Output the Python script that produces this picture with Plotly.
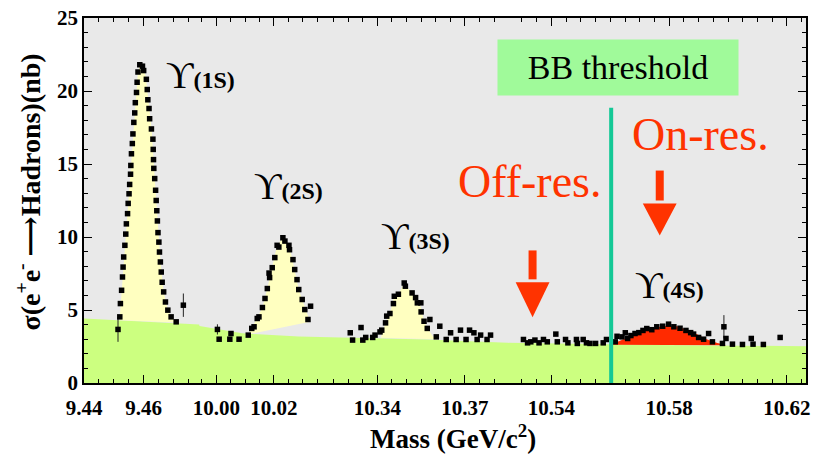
import numpy as np
import plotly.graph_objects as go

# ---------------- data ----------------
tick_masses = [9.44, 9.46, 10.00, 10.02, 10.34, 10.37, 10.54, 10.58, 10.62]
tick_labels = ["9.44", "9.46", "10.00", "10.02", "10.34", "10.37", "10.54", "10.58", "10.62"]
y_ticks = [0, 5, 10, 15, 20, 25]

# Upsilon(1S) scan
y1s_mass = [9.4514, 9.4520, 9.4522, 9.4526, 9.4529, 9.4531, 9.4533, 9.4537, 9.4540, 9.4542,
            9.4546, 9.4548, 9.4551, 9.4553, 9.4556, 9.4557, 9.4559, 9.4562, 9.4564, 9.4567,
            9.4570, 9.4572, 9.4576, 9.4578, 9.4581, 9.4587, 9.4596, 9.4600,
            9.4609, 9.4612, 9.4614, 9.4618, 9.4620, 9.4626, 9.4631, 9.4632, 9.4633, 9.4634,
            9.4637, 9.4640, 9.4642, 9.4644, 9.4646, 9.4648, 9.4651, 9.4653, 9.4656, 9.4659,
            9.4662, 9.4667, 9.4673, 9.4681, 9.4692, 9.4709, 9.4733]
y1s_sigma = [3.67, 4.53, 5.44, 6.35, 7.26, 7.94, 8.63, 9.43, 10.2, 10.9,
             11.6, 12.3, 12.96, 13.6, 14.3, 14.9, 15.7, 16.4, 17.06, 17.85,
             18.5, 19.2, 19.9, 20.6, 21.3, 21.8, 21.7, 21.4,
             20.8, 20.1, 19.4, 18.8, 18.1, 17.4, 16.7, 16.0, 15.3, 14.7,
             14.0, 13.2, 12.5, 11.8, 11.1, 10.3, 9.65, 8.97, 8.29, 7.6,
             6.9, 6.24, 5.55, 4.99, 4.53, 4.19, 5.33]
y1s_err = [0.85] + [0.0] * 53 + [0.8]

# Upsilon(2S) scan
y2s_mass = [10.0004, 10.0010, 10.0051, 10.0047, 10.0079, 10.0111, 10.0123, 10.0131, 10.0142, 10.0148,
            10.0160, 10.0169, 10.0177, 10.0185, 10.0183, 10.0194, 10.0203, 10.0211, 10.0217, 10.0231,
            10.0238, 10.0252, 10.0254, 10.0266, 10.0272, 10.0280, 10.0286, 10.0298, 10.0307, 10.0318,
            10.0327]
y2s_sigma = [3.67, 3.0, 3.39, 3.0, 3.0, 3.28, 3.74, 3.85, 4.42, 4.53,
             5.17, 5.79, 6.47, 7.22, 7.53, 7.9, 8.59, 9.43, 9.31, 9.95,
             9.72, 9.43, 9.13, 8.45, 7.77, 7.08, 6.4, 5.72, 5.03, 4.35,
             5.26]
y2s_err = [0.35] + [0.0] * 30

# Upsilon(3S) scan
y3s_mass = [10.3307, 10.3315, 10.3344, 10.3350, 10.3360, 10.3384, 10.3392, 10.3409, 10.3415, 10.3428,
            10.3432, 10.3443, 10.3455, 10.3458, 10.3472, 10.3492, 10.3496, 10.3519, 10.3531, 10.3537,
            10.3549, 10.3550, 10.3560, 10.3571, 10.3580, 10.3602, 10.3614, 10.3636, 10.3651, 10.3670,
            10.3685, 10.3704, 10.3716, 10.3731, 10.3742, 10.3754, 10.3776, 10.3788]
y3s_sigma = [3.44, 2.94, 3.80, 2.94, 3.12, 3.12, 3.28, 3.50, 3.62, 4.12,
             4.58, 4.76, 5.44, 5.94, 6.08, 6.85, 6.63, 6.17, 5.85, 5.49,
             5.49, 4.87, 4.23, 3.74, 4.35, 3.16, 3.89, 2.98, 3.44, 2.98,
             3.62, 2.98, 3.62, 3.44, 2.98, 3.28, 2.98, 3.28]

# Off-resonance + Upsilon(4S) scan
y4s_mass = [10.5305, 10.5319, 10.5330, 10.5344, 10.5358, 10.5373, 10.5386, 10.5415, 10.5420, 10.5448,
            10.5456, 10.5485, 10.5488, 10.5508, 10.5519, 10.5531, 10.5550, 10.5576, 10.5587, 10.5617,
            10.5623, 10.5640, 10.5651, 10.5659, 10.5670, 10.5684, 10.5697, 10.5711, 10.5724, 10.5741,
            10.5758, 10.5778, 10.5798, 10.5816, 10.5837, 10.5857, 10.5873, 10.5883, 10.5900, 10.5917,
            10.5934, 10.5947, 10.5981, 10.5986, 10.5993, 10.6015, 10.6049, 10.6079, 10.6085, 10.6120,
            10.6177]
y4s_sigma = [2.98, 2.75, 2.82, 2.94, 2.75, 2.98, 2.82, 3.35, 2.82, 2.98,
             2.75, 2.98, 2.71, 2.98, 2.75, 2.71, 2.71, 2.75, 2.98, 2.82,
             3.20, 3.16, 3.44, 3.05, 3.25, 3.39, 3.45, 3.60, 3.73, 3.65,
             3.85, 3.89, 4.03, 3.85, 3.75, 3.60, 3.45, 3.35, 3.12, 3.00,
             3.39, 2.82, 2.71, 3.85, 3.05, 2.66, 2.64, 3.05, 2.66, 2.64,
             3.12]
y4s_err = [0.0] * 43 + [0.8] + [0.0] * 7

# continuum (green band) upper edge
cont_mass = [9.44, 9.471, 9.4786, 9.9942, 10.00, 10.009, 10.0286, 10.0389,
             10.3234, 10.357, 10.3846, 10.5252, 10.5758, 10.6265]
cont_sigma = [4.42, 4.12, 4.0, 3.9, 3.69, 3.40, 3.18, 3.14,
              3.13, 2.98, 2.76, 2.75, 2.60, 2.52]

# resonance fit envelopes (upper edge of the coloured areas) and their bases
fit1s_mass = [9.4520, 9.4530, 9.4540, 9.4550, 9.4560, 9.4570, 9.4580, 9.4587, 9.4597,
              9.4607, 9.4617, 9.4627, 9.4637, 9.4647, 9.4657, 9.4667, 9.4677, 9.4690, 9.4707]
fit1s_sigma = [4.5, 7.5, 10.2, 12.8, 15.5, 18.5, 21.1, 21.8, 21.7,
               21.0, 18.9, 17.3, 14.0, 10.7, 8.2, 6.24, 5.3, 4.6, 4.2]
base1s_mass, base1s_sigma = [9.4707, 9.4520], [4.15, 4.3]

fit2s_mass = [10.0090, 10.0111, 10.0123, 10.0142, 10.0160, 10.0177, 10.0194, 10.0211, 10.0231,
              10.0245, 10.0260, 10.0272, 10.0286, 10.0298, 10.0312, 10.0325]
fit2s_sigma = [3.25, 3.3, 3.74, 4.42, 5.17, 6.47, 7.9, 9.43, 9.95,
               9.6, 8.8, 7.77, 6.4, 5.72, 4.9, 4.2]
base2s_mass, base2s_sigma = [10.0325, 10.0090], [4.2, 3.25]

fit3s_mass = [10.3412, 10.3428, 10.3443, 10.3458, 10.3472, 10.3492, 10.3505, 10.3519, 10.3537,
              10.3549, 10.3560, 10.3572, 10.3590, 10.3605]
fit3s_sigma = [3.1, 4.12, 4.76, 5.94, 6.08, 6.85, 6.5, 6.17, 5.49,
               5.2, 4.23, 3.74, 3.2, 3.0]
base3s_mass, base3s_sigma = [10.3605, 10.3412], [3.0, 3.1]

fit4s_mass = [10.5596, 10.5623, 10.5657, 10.5691, 10.5724, 10.5758, 10.5792, 10.5826, 10.5859,
              10.5893, 10.5927, 10.5961, 10.5995]
fit4s_sigma = [2.62, 2.8, 3.1, 3.4, 3.65, 3.82, 3.92, 3.88, 3.65, 3.35, 3.0, 2.75, 2.6]
base4s_mass, base4s_sigma = [10.5995, 10.5596], [2.58, 2.62]

bb_threshold_mass = 10.5603

# ---------------- broken mass axis ----------------
# (reference mass, axis position of that mass, axis units per GeV, segment start, segment end)
AXIS_SEGMENTS = [
    (9.44, 84.0, 3000.0, 84.0, 200.0),
    (10.00, 217.0, 2900.0, 200.0, 330.0),
    (10.34, 379.0, 2933.0, 330.0, 510.0),
    (10.54, 554.0, 2960.0, 510.0, 810.0),
]
SEG_SPLITS = [9.8, 10.2, 10.45]


def to_axis(m):
    m = np.asarray(m, dtype=float)
    idx = np.searchsorted(SEG_SPLITS, m)
    ref = np.array([s[0] for s in AXIS_SEGMENTS])[idx]
    pos = np.array([s[1] for s in AXIS_SEGMENTS])[idx]
    k = np.array([s[2] for s in AXIS_SEGMENTS])[idx]
    return pos + (m - ref) * k


minor_vals = []
for ref, pos, k, a0, a1 in AXIS_SEGMENTS:
    lo = ref + (a0 - pos) / k
    hi = ref + (a1 - pos) / k
    mm = np.arange(np.ceil(lo / 0.005 - 1e-9) * 0.005, hi + 1e-9, 0.005)
    minor_vals.extend(to_axis(mm).tolist())

SERIF = "Liberation Serif, DejaVu Serif, serif"
GREEN = "#ccff80"
YELLOW = "#ffffc0"
RED = "#ff3300"

fig = go.Figure()

# continuum
fig.add_trace(go.Scatter(x=to_axis(cont_mass), y=cont_sigma, mode="lines",
                         line=dict(width=0, color=GREEN), fill="tozeroy",
                         fillcolor=GREEN, hoverinfo="skip"))


def area(fm, fs, bm, bs, color):
    return go.Scatter(x=to_axis(list(fm) + list(bm)), y=list(fs) + list(bs),
                      mode="lines", line=dict(width=0, color=color),
                      fill="toself", fillcolor=color, hoverinfo="skip")


fig.add_trace(area(fit1s_mass, fit1s_sigma, base1s_mass, base1s_sigma, YELLOW))
fig.add_trace(area(fit2s_mass, fit2s_sigma, base2s_mass, base2s_sigma, YELLOW))
fig.add_trace(area(fit3s_mass, fit3s_sigma, base3s_mass, base3s_sigma, YELLOW))
fig.add_trace(area(fit4s_mass, fit4s_sigma, base4s_mass, base4s_sigma, "#ff2a00"))

# data points
zero3 = [0.0] * len(y3s_mass)
for mass, sig, err in [(y1s_mass, y1s_sigma, y1s_err), (y2s_mass, y2s_sigma, y2s_err),
                       (y3s_mass, y3s_sigma, zero3), (y4s_mass, y4s_sigma, y4s_err)]:
    fig.add_trace(go.Scatter(
        x=to_axis(mass), y=sig, mode="markers",
        marker=dict(symbol="square", size=5.5, color="black"),
        error_y=dict(type="data", array=err, visible=True, color="#222", thickness=1, width=0),
    ))

shapes = []
# BB threshold line
tx = float(to_axis([bb_threshold_mass])[0])
shapes.append(dict(type="line", xref="x", yref="y", x0=tx, x1=tx, y0=0, y1=18.85,
                   line=dict(color="#14c896", width=4), layer="above"))
# red arrows
for am, top, head, tip in [(10.5336, 9.08, 6.9, 4.5), (10.5768, 14.55, 12.3, 10.1)]:
    ax = float(to_axis([am])[0])
    shapes.append(dict(type="line", xref="x", yref="y", x0=ax, x1=ax, y0=top, y1=head + 0.2,
                       line=dict(color=RED, width=8), layer="above"))
    shapes.append(dict(type="path", xref="x", yref="y",
                       path=f"M {ax-17},{head} L {ax+17},{head} L {ax},{tip} Z",
                       fillcolor=RED, line=dict(width=0), layer="above"))

annotations = []
for lab, lm, ly in [("1S", 9.4790, 21.1), ("2S", 10.0252, 13.46),
                    ("3S", 10.3530, 10.04), ("4S", 10.5802, 6.69)]:
    annotations.append(dict(
        x=float(to_axis([lm])[0]), y=ly, xref="x", yref="y", showarrow=False,
        text=f"ϒ<span style='font-size:24px'><b>({lab})</b></span>",
        font=dict(family=SERIF, size=38, color="black"), xanchor="center", yanchor="middle"))

annotations.append(dict(x=float(to_axis([10.5626])[0]), y=21.62, xref="x", yref="y",
                        showarrow=False, text="BB threshold", bgcolor="#a0fa9a",
                        width=238, height=53, font=dict(family=SERIF, size=34, color="black"),
                        xanchor="center", yanchor="middle"))
annotations.append(dict(x=float(to_axis([10.5326])[0]), y=13.8, xref="x", yref="y",
                        showarrow=False, text="Off-res.",
                        font=dict(family=SERIF, size=46, color=RED),
                        xanchor="center", yanchor="middle"))
annotations.append(dict(x=float(to_axis([10.5907])[0]), y=17.0, xref="x", yref="y",
                        showarrow=False, text="On-res.",
                        font=dict(family=SERIF, size=46, color=RED),
                        xanchor="center", yanchor="middle"))
# axis titles
annotations.append(dict(x=0.511, y=-0.148, xref="paper", yref="paper", showarrow=False,
                        text="<b>Mass (GeV/c<sup>2</sup>)</b>",
                        font=dict(family=SERIF, size=27, color="black"),
                        xanchor="center", yanchor="middle"))
annotations.append(dict(x=-0.077, y=0.523, xref="paper", yref="paper", showarrow=False,
                        text="<b>σ(e<sup>+</sup>e<sup>-</sup> ⟶Hadrons)(nb)</b>", textangle=-90,
                        font=dict(family=SERIF, size=28, color="black"),
                        xanchor="center", yanchor="middle"))

fig.update_layout(
    width=816, height=457, margin=dict(l=84, r=6, t=17, b=74),
    paper_bgcolor="white", plot_bgcolor="#e9e9e9", showlegend=False,
    shapes=shapes, annotations=annotations,
)
axis_common = dict(ticks="inside", ticklen=8, tickwidth=1, tickcolor="black",
                   showline=True, linecolor="black", linewidth=1.5, mirror="ticks",
                   showgrid=False, zeroline=False,
                   tickfont=dict(family=SERIF, size=21, color="black", weight="bold"))
fig.update_xaxes(range=[84, 810], tickmode="array", tickvals=to_axis(tick_masses).tolist(),
                 ticktext=tick_labels, ticklabelstandoff=5,
                 minor=dict(tickmode="array", tickvals=minor_vals, ticks="inside",
                            ticklen=4, tickcolor="black", showgrid=False),
                 **axis_common)
fig.update_yaxes(range=[0, 25], tickmode="array", tickvals=y_ticks,
                 minor=dict(dtick=1, ticks="inside", ticklen=4, tickcolor="black", showgrid=False),
                 **axis_common)

fig.write_html("out.html")
